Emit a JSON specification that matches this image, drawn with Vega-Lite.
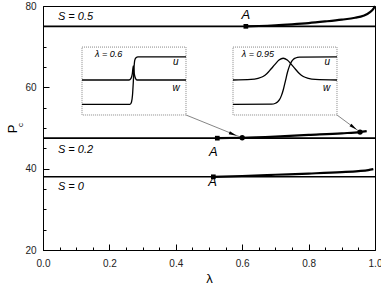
{
  "$schema": "https://vega.github.io/schema/vega-lite/v6.json",
  "width": 332,
  "height": 244,
  "autosize": {"type": "none"},
  "padding": {"left": 43, "top": 6, "right": 6, "bottom": 35},
  "background": "white",
  "config": {
    "view": {"stroke": "black", "strokeWidth": 1},
    "font": "Liberation Sans",
    "axis": {
      "grid": false,
      "domainColor": "black",
      "tickColor": "black",
      "labelColor": "#222222",
      "labelFontSize": 10,
      "labelFont": "Liberation Sans",
      "titleFont": "Liberation Sans",
      "titleFontWeight": "normal",
      "titleColor": "black"
    }
  },
  "datasets": {
    "levels": [
      {"S": "0.5", "lam": 0, "pc": 75.0}, {"S": "0.5", "lam": 1, "pc": 75.0},
      {"S": "0.2", "lam": 0, "pc": 47.5}, {"S": "0.2", "lam": 1, "pc": 47.5},
      {"S": "0", "lam": 0, "pc": 38.0}, {"S": "0", "lam": 1, "pc": 38.0}
    ],
    "branches": [
      {"S": "0.5", "lam": 0.611, "pc": 75.0}, {"S": "0.5", "lam": 0.65, "pc": 75.08},
      {"S": "0.5", "lam": 0.70, "pc": 75.25}, {"S": "0.5", "lam": 0.75, "pc": 75.5},
      {"S": "0.5", "lam": 0.80, "pc": 75.8}, {"S": "0.5", "lam": 0.85, "pc": 76.2},
      {"S": "0.5", "lam": 0.90, "pc": 76.65}, {"S": "0.5", "lam": 0.94, "pc": 77.1},
      {"S": "0.5", "lam": 0.965, "pc": 77.6}, {"S": "0.5", "lam": 0.985, "pc": 78.5},
      {"S": "0.5", "lam": 0.995, "pc": 79.3}, {"S": "0.5", "lam": 1.0, "pc": 80.0},
      {"S": "0.2", "lam": 0.525, "pc": 47.5}, {"S": "0.2", "lam": 0.6, "pc": 47.6},
      {"S": "0.2", "lam": 0.7, "pc": 47.9}, {"S": "0.2", "lam": 0.8, "pc": 48.3},
      {"S": "0.2", "lam": 0.9, "pc": 48.7}, {"S": "0.2", "lam": 0.955, "pc": 49.0},
      {"S": "0.2", "lam": 0.975, "pc": 49.25},
      {"S": "0", "lam": 0.513, "pc": 38.0}, {"S": "0", "lam": 0.6, "pc": 38.2},
      {"S": "0", "lam": 0.7, "pc": 38.5}, {"S": "0", "lam": 0.8, "pc": 38.8},
      {"S": "0", "lam": 0.9, "pc": 39.15}, {"S": "0", "lam": 0.95, "pc": 39.4},
      {"S": "0", "lam": 0.98, "pc": 39.65}, {"S": "0", "lam": 0.995, "pc": 39.9}
    ],
    "pointsA": [
      {"S": "0.5", "lam": 0.611, "pc": 75.0},
      {"S": "0.2", "lam": 0.525, "pc": 47.5},
      {"S": "0", "lam": 0.513, "pc": 38.0}
    ],
    "circles": [
      {"lam": 0.6, "pc": 47.6},
      {"lam": 0.955, "pc": 49.0}
    ],
    "insets": [
      {"inset": "1", "lam": 0.1175, "pc": 69.9, "lam2": 0.4307, "pc2": 53.2},
      {"inset": "2", "lam": 0.5723, "pc": 69.9, "lam2": 0.8855, "pc2": 53.2}
    ],
    "arrows": [
      {"id": "1", "lam": 0.4307, "pc": 53.2, "lam2": 0.6, "pc2": 47.6},
      {"id": "2", "lam": 0.8855, "pc": 53.2, "lam2": 0.955, "pc2": 49.0}
    ],
    "arrowheads": [
      {"id": "1", "lam": 0.5723, "pc": 48.48},
      {"id": "2", "lam": 0.9358, "pc": 50.13}
    ],
    "profiles": [
      {"curve": "1u", "lam": 0.1175, "pc": 55.8}, {"curve": "1u", "lam": 0.262, "pc": 55.8},
      {"curve": "1u", "lam": 0.2666, "pc": 56.4}, {"curve": "1u", "lam": 0.2696, "pc": 58.1},
      {"curve": "1u", "lam": 0.272, "pc": 61.3}, {"curve": "1u", "lam": 0.2741, "pc": 64.75},
      {"curve": "1u", "lam": 0.2765, "pc": 66.7}, {"curve": "1u", "lam": 0.2801, "pc": 67.3},
      {"curve": "1u", "lam": 0.2861, "pc": 67.5}, {"curve": "1u", "lam": 0.4307, "pc": 67.5},
      {"curve": "1w", "lam": 0.1175, "pc": 61.8}, {"curve": "1w", "lam": 0.259, "pc": 61.8},
      {"curve": "1w", "lam": 0.2651, "pc": 62.2}, {"curve": "1w", "lam": 0.269, "pc": 63.3},
      {"curve": "1w", "lam": 0.272, "pc": 65.3}, {"curve": "1w", "lam": 0.275, "pc": 63.3},
      {"curve": "1w", "lam": 0.2786, "pc": 62.2}, {"curve": "1w", "lam": 0.2831, "pc": 61.8},
      {"curve": "1w", "lam": 0.4307, "pc": 61.8},
      {"curve": "2w", "lam": 0.5723, "pc": 61.8}, {"curve": "2w", "lam": 0.6265, "pc": 61.95},
      {"curve": "2w", "lam": 0.6476, "pc": 62.23}, {"curve": "2w", "lam": 0.6627, "pc": 62.66},
      {"curve": "2w", "lam": 0.6747, "pc": 63.4}, {"curve": "2w", "lam": 0.6867, "pc": 64.5},
      {"curve": "2w", "lam": 0.6988, "pc": 65.65}, {"curve": "2w", "lam": 0.7108, "pc": 66.7},
      {"curve": "2w", "lam": 0.7235, "pc": 67.15}, {"curve": "2w", "lam": 0.7358, "pc": 66.7},
      {"curve": "2w", "lam": 0.7479, "pc": 65.65}, {"curve": "2w", "lam": 0.7599, "pc": 64.5},
      {"curve": "2w", "lam": 0.772, "pc": 63.4}, {"curve": "2w", "lam": 0.784, "pc": 62.66},
      {"curve": "2w", "lam": 0.7991, "pc": 62.23}, {"curve": "2w", "lam": 0.8202, "pc": 61.95},
      {"curve": "2w", "lam": 0.8855, "pc": 61.8},
      {"curve": "2u", "lam": 0.5723, "pc": 55.8}, {"curve": "2u", "lam": 0.6883, "pc": 55.86},
      {"curve": "2u", "lam": 0.7003, "pc": 56.09}, {"curve": "2u", "lam": 0.7063, "pc": 56.4},
      {"curve": "2u", "lam": 0.7123, "pc": 56.97}, {"curve": "2u", "lam": 0.7184, "pc": 58.02},
      {"curve": "2u", "lam": 0.7244, "pc": 59.6}, {"curve": "2u", "lam": 0.7304, "pc": 61.65},
      {"curve": "2u", "lam": 0.7364, "pc": 63.7}, {"curve": "2u", "lam": 0.7425, "pc": 65.28},
      {"curve": "2u", "lam": 0.7485, "pc": 66.33}, {"curve": "2u", "lam": 0.7545, "pc": 66.92},
      {"curve": "2u", "lam": 0.7605, "pc": 67.21}, {"curve": "2u", "lam": 0.7726, "pc": 67.44},
      {"curve": "2u", "lam": 0.8855, "pc": 67.5}
    ],
    "labels": [
      {"kind": "S", "txt": "S = 0.5", "lam": 0.045, "pc": 77.3},
      {"kind": "S", "txt": "S = 0.2", "lam": 0.045, "pc": 44.6},
      {"kind": "S", "txt": "S = 0", "lam": 0.045, "pc": 35.6},
      {"kind": "A", "txt": "A", "lam": 0.611, "pc": 77.8},
      {"kind": "A", "txt": "A", "lam": 0.513, "pc": 44.2},
      {"kind": "A", "txt": "A", "lam": 0.511, "pc": 36.8},
      {"kind": "inL", "txt": "λ = 0.6", "lam": 0.157, "pc": 68.2},
      {"kind": "inL", "txt": "λ = 0.95", "lam": 0.5985, "pc": 68.2},
      {"kind": "inC", "txt": "u", "lam": 0.3997, "pc": 66.16},
      {"kind": "inC", "txt": "w", "lam": 0.4006, "pc": 59.76},
      {"kind": "inC", "txt": "u", "lam": 0.8563, "pc": 66.16},
      {"kind": "inC", "txt": "w", "lam": 0.8545, "pc": 59.76},
      {"kind": "title", "txt": "P", "lam": -0.0889, "pc": 49.76},
      {"kind": "sub", "txt": "c", "lam": -0.0648, "pc": 50.74}
    ]
  },
  "encoding": {
    "x": {
      "field": "lam",
      "type": "quantitative",
      "scale": {"domain": [0, 1], "nice": false, "zero": false},
      "axis": {
        "title": "λ",
        "titleFontSize": 13,
        "titlePadding": 4,
        "values": [0, 0.05, 0.1, 0.15, 0.2, 0.25, 0.3, 0.35, 0.4, 0.45, 0.5, 0.55, 0.6, 0.65, 0.7, 0.75, 0.8, 0.85, 0.9, 0.95, 1.0],
        "format": ".1f",
        "labelExpr": "round(datum.value*20) % 4 == 0 ? datum.label : ''",
        "tickSize": {"condition": {"test": "round(datum.value*20) % 4 == 0", "value": -6}, "value": -3},
        "labelPadding": 14,
        "labelFlush": false
      }
    },
    "y": {
      "field": "pc",
      "type": "quantitative",
      "scale": {"domain": [20, 80], "nice": false, "zero": false},
      "axis": {
        "title": null,
        "values": [20, 25, 30, 35, 40, 45, 50, 55, 60, 65, 70, 75, 80],
        "labelExpr": "datum.value % 20 == 0 ? datum.label : ''",
        "tickSize": {"condition": {"test": "datum.value % 20 == 0", "value": -6}, "value": -3},
        "labelPadding": 13,
        "labelFlush": false
      }
    }
  },
  "layer": [
    {
      "data": {"name": "levels"},
      "mark": {"type": "line", "color": "black", "strokeWidth": 1.6},
      "encoding": {"detail": {"field": "S"}}
    },
    {
      "data": {"name": "branches"},
      "mark": {"type": "line", "color": "black", "strokeWidth": 2.2, "interpolate": "monotone"},
      "encoding": {"detail": {"field": "S"}}
    },
    {
      "data": {"name": "insets"},
      "mark": {"type": "rect", "fill": "white", "stroke": "#888888", "strokeWidth": 1, "strokeDash": [1, 1]},
      "encoding": {"x2": {"field": "lam2"}, "y2": {"field": "pc2"}}
    },
    {
      "data": {"name": "profiles"},
      "mark": {"type": "line", "color": "black", "strokeWidth": 1.3, "interpolate": "monotone"},
      "encoding": {"detail": {"field": "curve"}}
    },
    {
      "data": {"name": "arrows"},
      "mark": {"type": "rule", "color": "#666666", "strokeWidth": 0.8},
      "encoding": {"x2": {"field": "lam2"}, "y2": {"field": "pc2"}}
    },
    {
      "data": {"name": "arrowheads"},
      "transform": [{"filter": "datum.id == '1'"}],
      "mark": {"type": "point", "shape": "M-1,-0.4L1,0L-1,0.4Z", "filled": true, "color": "black", "size": 64, "angle": 22.3, "opacity": 1}
    },
    {
      "data": {"name": "arrowheads"},
      "transform": [{"filter": "datum.id == '2'"}],
      "mark": {"type": "point", "shape": "M-1,-0.4L1,0L-1,0.4Z", "filled": true, "color": "black", "size": 64, "angle": 36.8, "opacity": 1}
    },
    {
      "data": {"name": "pointsA"},
      "mark": {"type": "point", "shape": "square", "filled": true, "color": "black", "size": 22, "opacity": 1}
    },
    {
      "data": {"name": "circles"},
      "mark": {"type": "point", "shape": "circle", "filled": true, "color": "black", "size": 28, "opacity": 1}
    },
    {
      "data": {"name": "labels"},
      "transform": [{"filter": "datum.kind == 'S'"}],
      "mark": {"type": "text", "align": "left", "baseline": "middle", "fontSize": 11, "fontStyle": "italic", "color": "black"},
      "encoding": {"text": {"field": "txt"}}
    },
    {
      "data": {"name": "labels"},
      "transform": [{"filter": "datum.kind == 'A'"}],
      "mark": {"type": "text", "align": "center", "baseline": "middle", "fontSize": 13, "fontStyle": "italic", "color": "black"},
      "encoding": {"text": {"field": "txt"}}
    },
    {
      "data": {"name": "labels"},
      "transform": [{"filter": "datum.kind == 'inL'"}],
      "mark": {"type": "text", "align": "left", "baseline": "middle", "fontSize": 9, "fontStyle": "italic", "color": "black"},
      "encoding": {"text": {"field": "txt"}}
    },
    {
      "data": {"name": "labels"},
      "transform": [{"filter": "datum.kind == 'inC'"}],
      "mark": {"type": "text", "align": "center", "baseline": "middle", "fontSize": 10, "fontStyle": "italic", "color": "black"},
      "encoding": {"text": {"field": "txt"}}
    },
    {
      "data": {"name": "labels"},
      "transform": [{"filter": "datum.kind == 'title'"}],
      "mark": {"type": "text", "align": "center", "baseline": "middle", "fontSize": 13, "angle": 270, "color": "black"},
      "encoding": {"text": {"field": "txt"}}
    },
    {
      "data": {"name": "labels"},
      "transform": [{"filter": "datum.kind == 'sub'"}],
      "mark": {"type": "text", "align": "center", "baseline": "middle", "fontSize": 8, "angle": 270, "color": "black"},
      "encoding": {"text": {"field": "txt"}}
    }
  ]
}
